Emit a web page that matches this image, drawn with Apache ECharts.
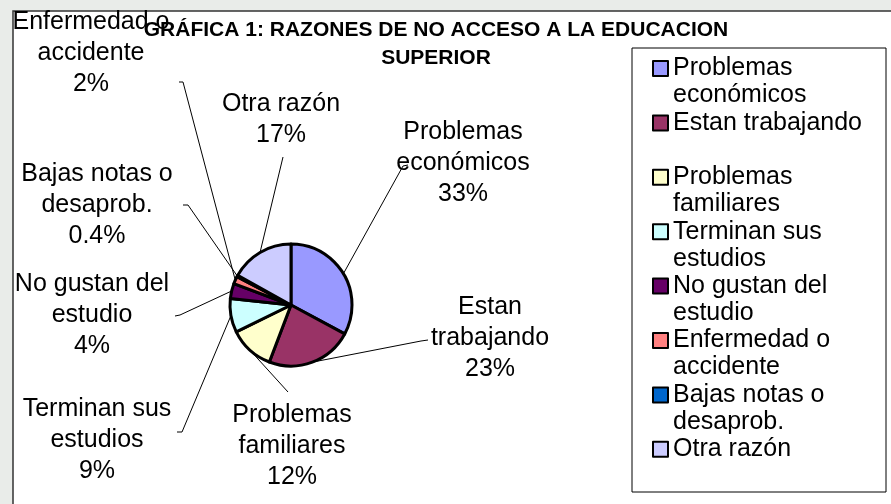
<!DOCTYPE html>
<html>
<head>
<meta charset="utf-8">
<script src="https://cdn.jsdelivr.net/npm/echarts@6/dist/echarts.min.js"></script>
<style>
  html, body { margin: 0; padding: 0; background: #e9ece9; }
  #chart { width: 891px; height: 504px; }
</style>
</head>
<body>
<div id="chart"></div>
<script>
const names = [
  "Problemas económicos",
  "Estan trabajando",
  "Problemas familiares",
  "Terminan sus estudios",
  "No gustan del estudio",
  "Enfermedad o accidente",
  "Bajas notas o desaprob.",
  "Otra razón"
];
const values = [33, 23, 12, 9, 4, 2, 0.4, 17];
const colors = ["#9999ff", "#993366", "#ffffcc", "#ccffff", "#660066", "#ff8080", "#0066cc", "#ccccff"];

// text as it wraps in the picture
const labelNames = [
  "Problemas\neconómicos",
  "Estan\ntrabajando",
  "Problemas\nfamiliares",
  "Terminan sus\nestudios",
  "No gustan del\nestudio",
  "Enfermedad o\naccidente",
  "Bajas notas o\ndesaprob.",
  "Otra razón"
];
// leading blank line keeps the legend box beside the first line
const legendNames = [
  "\nProblemas\neconómicos",
  "\nEstan trabajando\n ",
  "\nProblemas\nfamiliares",
  "\nTerminan sus\nestudios",
  "\nNo gustan del\nestudio",
  "\nEnfermedad o\naccidente",
  "\nBajas notas o\ndesaprob.",
  "\nOtra razón\n "
];

// centre of each data label, and where its leader line meets it
const labelPos = [
  [463, 163], [490, 338], [292, 446], [97, 440],
  [92, 315], [91, 53], [97, 205], [281, 120]
];
const lineEnds = [
  [[403, 166], [408, 165]],
  [[421, 341], [428, 340]],
  [[288, 392]],
  [[182, 432], [177, 432]],
  [[180, 315], [175, 316]],
  [[183, 82], [179, 82]],
  [[188, 205], [183, 205]],
  [[283, 157]]
];

const FONT = "'Liberation Sans', Arial, sans-serif";

const chart = echarts.init(document.getElementById("chart"));

chart.setOption({
  backgroundColor: "#e9ece9",
  animation: false,
  graphic: [
    {
      type: "rect",
      z: -10,
      shape: { x: 13, y: 11, width: 900, height: 520 },
      style: { fill: "#fff", stroke: "#333", lineWidth: 1.5 }
    },
    {
      type: "rect",
      z: -5,
      shape: { x: 632, y: 48, width: 254, height: 444 },
      style: { fill: "#fff", stroke: "#000", lineWidth: 1 }
    }
  ],
  title: {
    text: "GRÁFICA 1: RAZONES DE NO ACCESO A LA EDUCACION\nSUPERIOR",
    left: 436,
    top: 16,
    padding: 0,
    textAlign: "center",
    textStyle: {
      fontFamily: FONT,
      fontSize: 21,
      fontWeight: "bold",
      color: "#000",
      lineHeight: 28
    }
  },
  legend: {
    orient: "vertical",
    left: 652,
    top: 28,
    padding: 0,
    itemWidth: 15,
    itemHeight: 15,
    itemGap: -26.6,
    icon: "rect",
    itemStyle: { borderColor: "#000", borderWidth: 2 },
    formatter: (name) => legendNames[names.indexOf(name)],
    textStyle: {
      fontFamily: FONT,
      fontSize: 25,
      lineHeight: 27,
      color: "#000"
    },
    data: names
  },
  series: [
    {
      type: "pie",
      center: [291, 305],
      radius: 61,
      startAngle: 90,
      clockwise: true,
      avoidLabelOverlap: false,
      itemStyle: { borderColor: "#000", borderWidth: 3 },
      label: {
        show: true,
        position: "outside",
        fontFamily: FONT,
        fontSize: 25,
        lineHeight: 31,
        color: "#000",
        align: "center",
        formatter: (p) => labelNames[p.dataIndex] + "\n" + p.value + "%"
      },
      labelLine: {
        show: true,
        length: 10,
        length2: 5,
        lineStyle: { color: "#000", width: 1 }
      },
      labelLayout: (p) => ({
        x: labelPos[p.dataIndex][0],
        y: labelPos[p.dataIndex][1],
        align: "center",
        verticalAlign: "middle",
        labelLinePoints: [p.labelLinePoints[0]].concat(lineEnds[p.dataIndex])
      }),
      emphasis: { disabled: true },
      data: names.map((n, i) => ({
        name: n,
        value: values[i],
        itemStyle: { color: colors[i] }
      }))
    }
  ]
});
</script>
</body>
</html>
